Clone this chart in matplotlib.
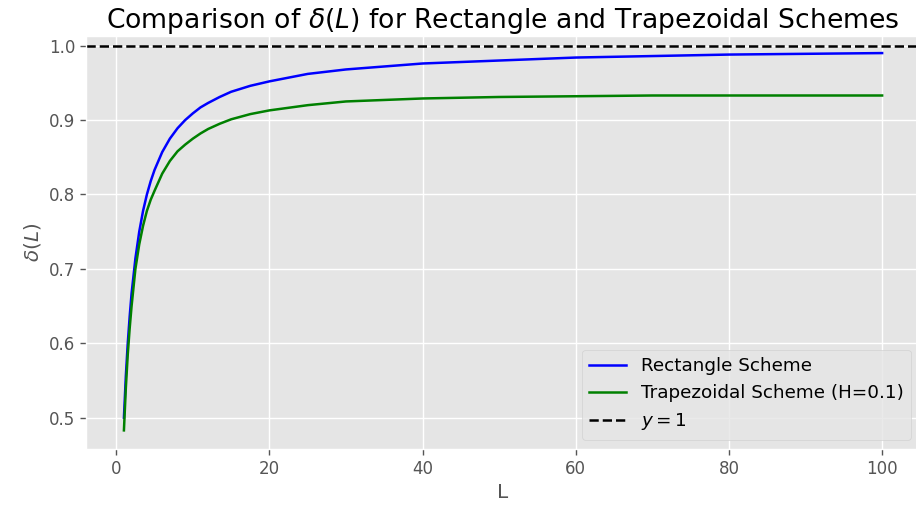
import matplotlib
matplotlib.use("Agg")
import matplotlib.pyplot as plt

plt.style.use("ggplot")

# wartosci
L = [1, 1.25, 1.5, 1.75, 2, 2.5, 3, 3.5, 4, 4.5, 5, 6, 7, 8, 9, 10, 11, 12, 13.5, 15,
     17.5, 20, 25, 30, 35, 40, 45, 50, 60, 70, 80, 90, 100]
delta_rect = [0.500, 0.556, 0.600, 0.636, 0.667, 0.714, 0.750, 0.778, 0.800, 0.818,
              0.833, 0.857, 0.875, 0.889, 0.900, 0.909, 0.917, 0.923, 0.931, 0.938,
              0.946, 0.952, 0.962, 0.968, 0.972, 0.976, 0.978, 0.980, 0.984, 0.986,
              0.988, 0.989, 0.990]
delta_trap = [0.483, 0.540, 0.585, 0.620, 0.650, 0.700, 0.733, 0.758, 0.778, 0.793,
              0.805, 0.828, 0.845, 0.858, 0.867, 0.875, 0.882, 0.888, 0.895, 0.901,
              0.908, 0.913, 0.920, 0.925, 0.927, 0.929, 0.930, 0.931, 0.932, 0.933,
              0.933, 0.933, 0.933]

fig = plt.figure(figsize=(9.16, 5.13), dpi=100)
ax = fig.add_axes([0.0939, 0.1248, 0.9105, 0.8051])

ax.plot(L, delta_rect, color="b", lw=1.8, label="Rectangle Scheme")
ax.plot(L, delta_trap, color="g", lw=1.8, label="Trapezoidal Scheme (H=0.1)")
ax.axhline(1, color="k", linestyle="--", lw=1.8, label="$y = 1$")

ax.set_xlim(-3.95, 104.95)
ax.set_ylim(0.458, 1.013)
ax.set_title(r"Comparison of $\delta(L)$ for Rectangle and Trapezoidal Schemes", fontsize=19.2)
ax.set_xlabel("L", fontsize=14.4)
ax.set_ylabel(r"$\delta(L)$", fontsize=14.4)
ax.tick_params(labelsize=12, length=4.2, width=1.0)
ax.grid(True, linewidth=1.0)
ax.legend(loc="lower right", fontsize=13.2)

fig.savefig("out.png", dpi=100)
